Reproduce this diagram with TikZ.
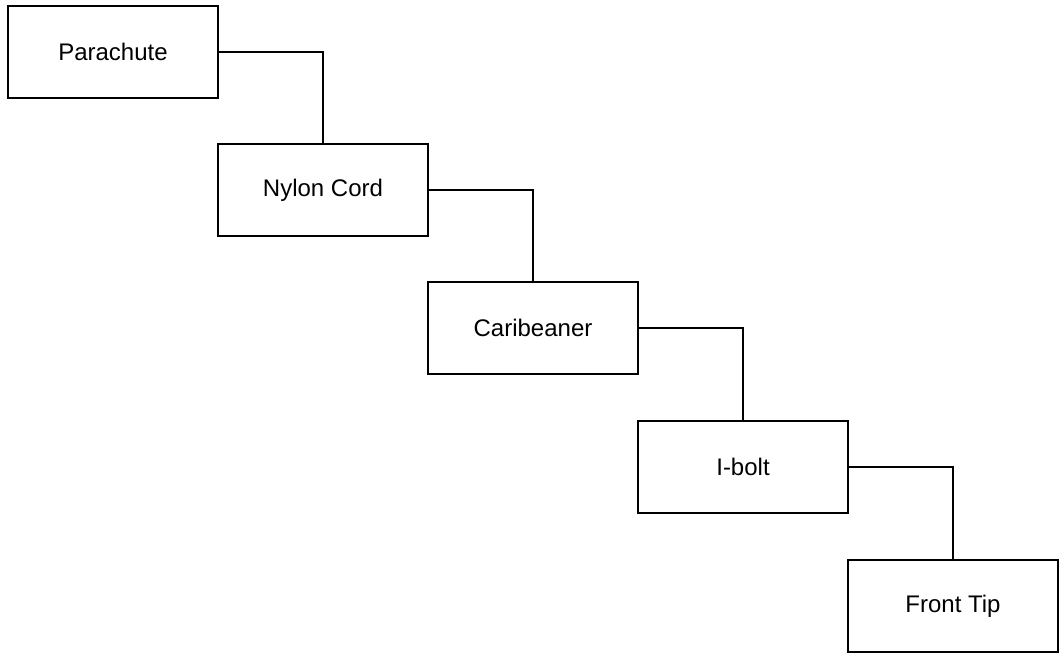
\documentclass[tikz,border=0pt]{standalone}
\usepackage{fontspec}
\setmainfont{Liberation Sans}
\begin{document}
\begin{tikzpicture}[x=1pt,y=-1pt,
  part/.style={draw,line width=1.3pt,minimum width=210pt,minimum height=92pt,inner sep=0pt,font=\fontsize{24}{27}\selectfont},
  link/.style={draw,line width=1.3pt}]
\useasboundingbox (0,0) rectangle (1062,655);
\node[part] (a) at (113,52) {Parachute};
\node[part] (b) at (323,190) {Nylon Cord};
\node[part] (c) at (533,328) {Caribeaner};
\node[part] (d) at (743,467) {I-bolt};
\node[part] (e) at (953,606) {Front Tip};
\draw[link] (a.east) -| (b.north);
\draw[link] (b.east) -| (c.north);
\draw[link] (c.east) -| (d.north);
\draw[link] (d.east) -| (e.north);
\end{tikzpicture}
\end{document}
